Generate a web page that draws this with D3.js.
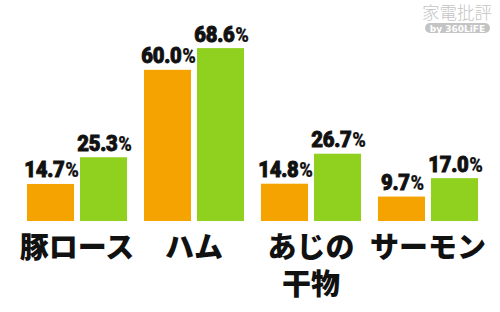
<!DOCTYPE html>
<html><head><meta charset="utf-8">
<script src="https://cdn.jsdelivr.net/npm/d3@7"></script>
<style>
html,body{margin:0;padding:0;background:#fff;}
svg{display:block;}
</style></head>
<body>
<svg id="chart" width="500" height="312"></svg>
<script>
const categories = ["豚ロース", "ハム", "あじの\n干物", "サーモン"];
const series = ["A", "B"];
const valuesA = [14.7, 60.0, 14.8, 9.7];
const valuesB = [25.3, 68.6, 26.7, 17.0];
const colors = ["#F5A300", "#8FD11E"];

const svg = d3.select("#chart");
const baseline = 221;
const x = d3.scaleBand().domain(categories).range([27, 478]).paddingInner(0.145).paddingOuter(0);
const xi = d3.scaleBand().domain(series).range([0, x.bandwidth()]).paddingInner(0.113);
const y = d3.scaleLinear().domain([0, 80]).range([baseline, baseline - 201.6]);

const data = [];
categories.forEach((c, i) => {
  data.push({c, s: "A", v: valuesA[i], col: colors[0]});
  data.push({c, s: "B", v: valuesB[i], col: colors[1]});
});

svg.selectAll("rect.bar").data(data).join("rect")
  .attr("class", "bar")
  .attr("x", d => x(d.c) + xi(d.s))
  .attr("y", d => y(d.v))
  .attr("width", xi.bandwidth())
  .attr("height", d => y(0) - y(d.v))
  .attr("fill", d => d.col);

const lab = svg.selectAll("text.val").data(data).join("text")
  .attr("class", "val")
  .attr("transform", d => `translate(${x(d.c) + xi(d.s) + xi.bandwidth() / 2 + 1},${y(d.v) - 6.5}) scale(0.92,1)`)
  .attr("text-anchor", "middle")
  .attr("font-family", "Roboto, 'Liberation Sans', sans-serif")
  .attr("font-weight", 900)
  .attr("font-size", 22)
  .attr("letter-spacing", -0.3)
  .attr("stroke", "#111")
  .attr("stroke-width", 0.9)
  .attr("fill", "#111");
lab.append("tspan").text(d => d.v.toFixed(1));
lab.append("tspan").attr("font-size", 20).attr("stroke-width", 0.2).attr("dx", 1).text("%");

const cat = svg.selectAll("text.cat").data(categories).join("text")
  .attr("class", "cat")
  .attr("x", d => x(d) + x.bandwidth() / 2)
  .attr("y", 258)
  .attr("text-anchor", "middle")
  .attr("font-family", "'Noto Sans CJK JP', sans-serif")
  .attr("font-weight", 900)
  .attr("font-size", 29)
  .attr("fill", "#111");
cat.each(function(d) {
  const lines = d.split("\n");
  const t = d3.select(this);
  lines.forEach((l, i) => {
    t.append("tspan").attr("x", x(d) + x.bandwidth() / 2).attr("dy", i === 0 ? 0 : 37).text(l);
  });
});

// watermark
svg.append("text").attr("x", 457).attr("y", 19).attr("text-anchor", "middle")
  .attr("font-family", "'Noto Sans CJK JP', sans-serif").attr("font-weight", 300).attr("font-size", 17.5)
  .attr("fill", "#c4c4c4").text("家電批評");
svg.append("rect").attr("x", 425).attr("y", 23).attr("width", 65).attr("height", 10).attr("rx", 5)
  .attr("fill", "#c4c4c4");
svg.append("text").attr("x", 457.5).attr("y", 31.5).attr("text-anchor", "middle")
  .attr("font-family", "'DejaVu Sans', sans-serif").attr("font-weight", "bold").attr("font-size", 9)
  .attr("fill", "#fff").text("by 360LiFE");
</script>
</body></html>
